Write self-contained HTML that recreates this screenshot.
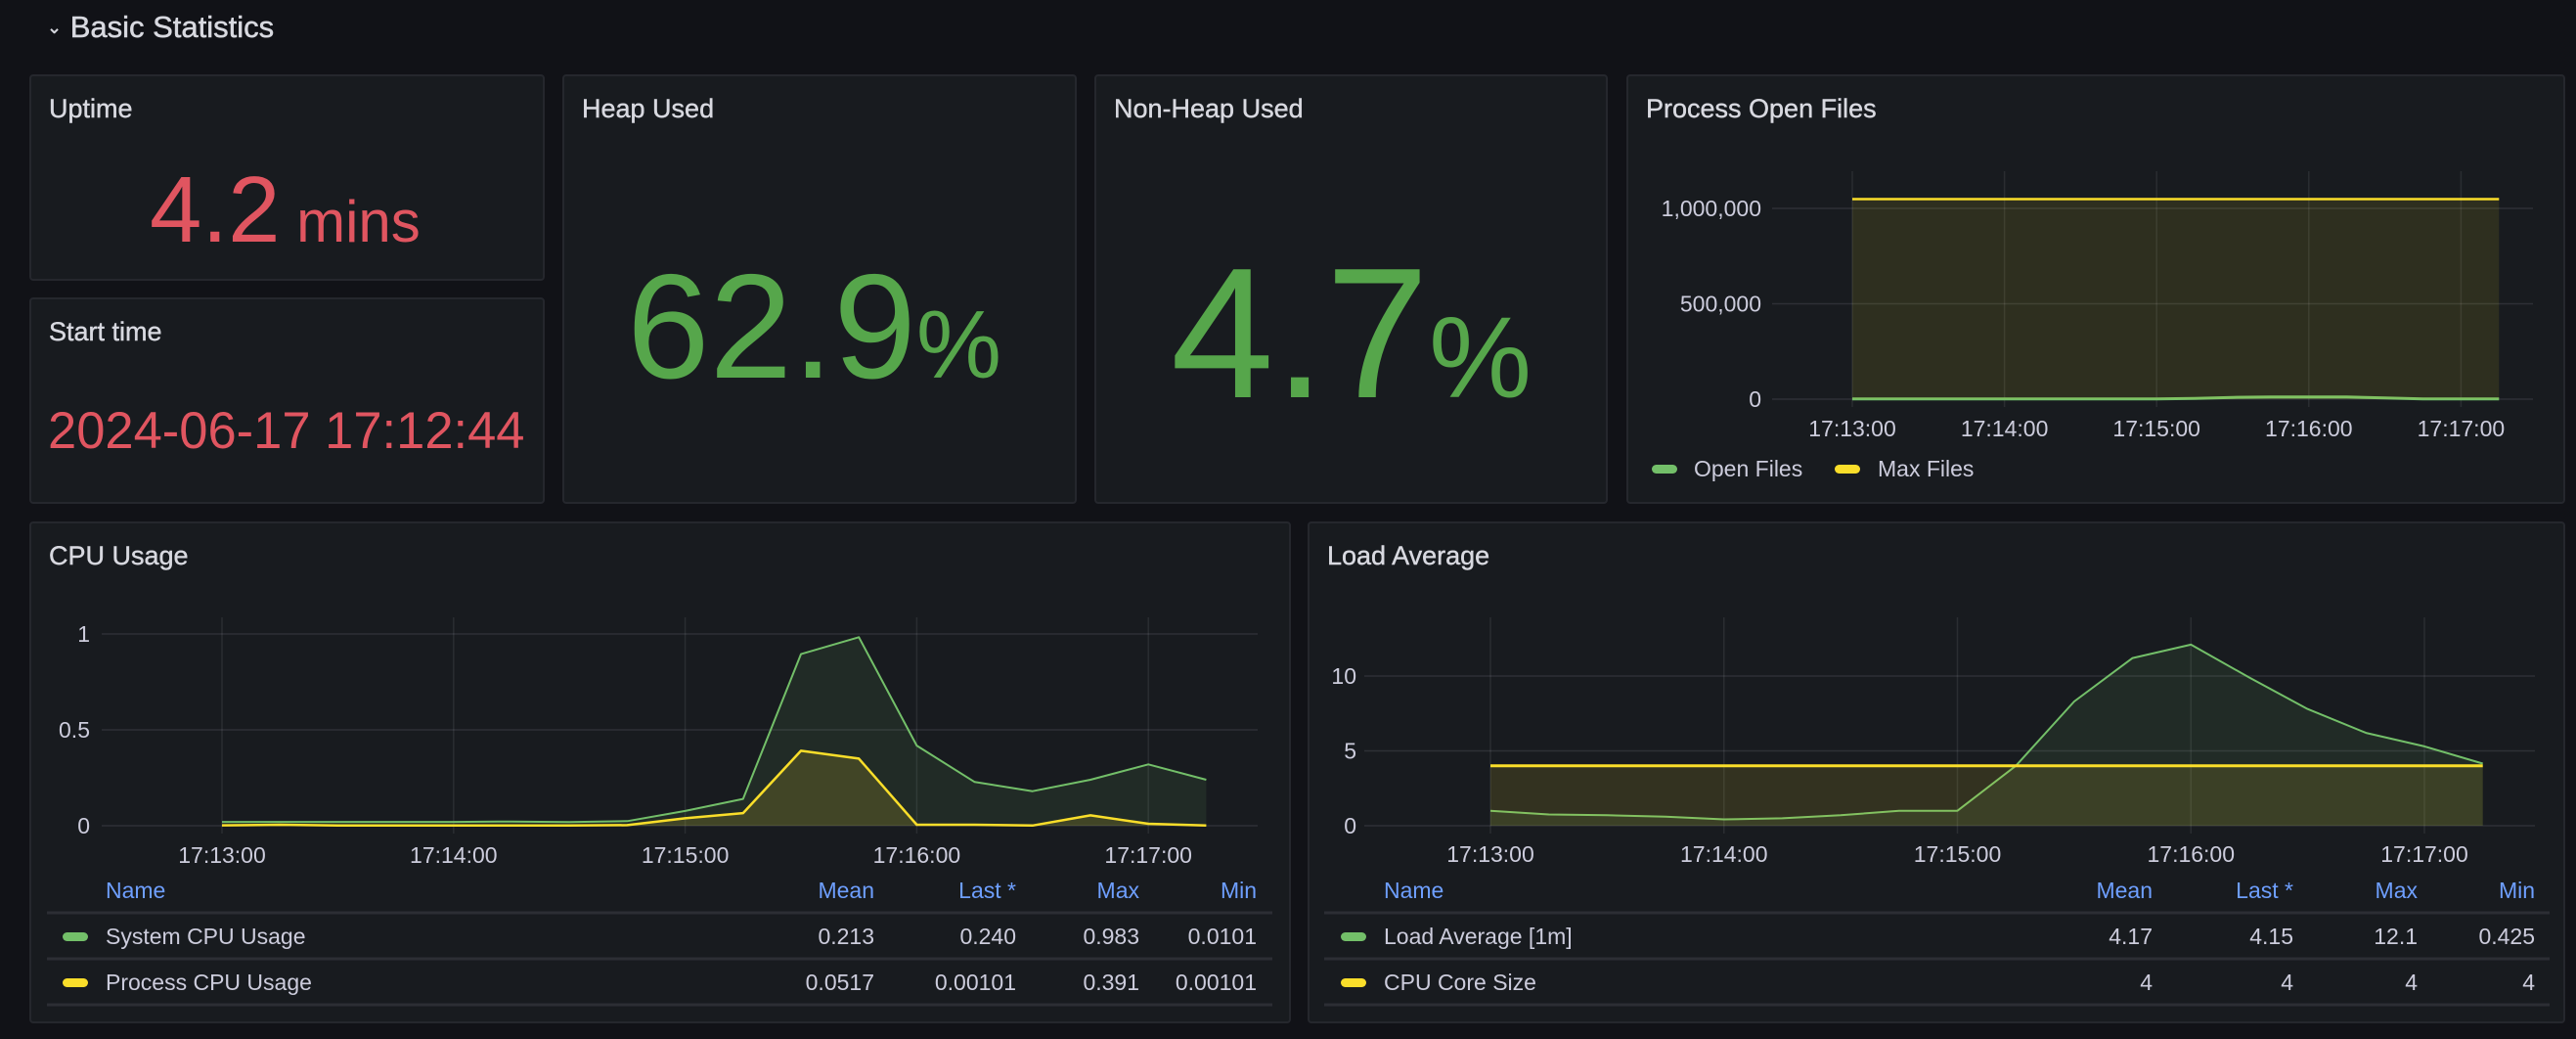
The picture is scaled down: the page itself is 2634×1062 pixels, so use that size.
<!DOCTYPE html>
<html><head><meta charset="utf-8"><style>
body{margin:0;width:2634px;height:1062px;background:#111217;font-family:"Liberation Sans",sans-serif;color:#ccccdc;overflow:hidden;position:relative}
.panel{position:absolute;background:#181b1f;border:2px solid #25272d;border-radius:4px;box-sizing:border-box}
.ptitle{position:absolute;left:18px;top:18px;font-size:27px;color:#d8d9e0;-webkit-text-stroke:0.4px #d8d9e0}
.abs{position:absolute;white-space:nowrap}
svg{position:absolute;left:0;top:0}
</style></head><body>
<div class="abs" style="left:48px;top:10px;font-size:31px;color:#d8d9e0;-webkit-text-stroke:0.5px #d8d9e0"><span style="font-size:18px;position:relative;top:-4px">&#8964;</span> Basic Statistics</div>

<div class="panel" style="left:30px;top:76px;width:527px;height:211px"><div class="ptitle">Uptime</div></div>
<div class="abs" style="left:153px;top:160px;color:#e05560;font-size:96px">4.2<span style="font-size:60px"> mins</span></div>

<div class="panel" style="left:30px;top:304px;width:527px;height:211px"><div class="ptitle">Start time</div></div>
<div class="abs" style="left:49px;top:410px;color:#e05560;font-size:52.5px">2024-06-17 17:12:44</div>

<div class="panel" style="left:575px;top:76px;width:526px;height:439px"><div class="ptitle">Heap Used</div></div>
<div class="abs" style="left:641px;top:247px;color:#56a64b;font-size:152px">62.9<span style="font-size:98px">%</span></div>

<div class="panel" style="left:1119px;top:76px;width:525px;height:439px"><div class="ptitle">Non-Heap Used</div></div>
<div class="abs" style="left:1197px;top:232px;color:#56a64b;font-size:190px">4.7<span style="font-size:118px">%</span></div>

<div class="panel" style="left:1663px;top:76px;width:960px;height:439px"><div class="ptitle">Process Open Files</div></div>
<div class="panel" style="left:30px;top:533px;width:1290px;height:513px"><div class="ptitle">CPU Usage</div></div>
<div class="panel" style="left:1337px;top:533px;width:1286px;height:513px"><div class="ptitle">Load Average</div></div>

<svg id="chart" width="2634" height="1062"></svg>
<script>
// time in seconds since 17:13:00
const cpuTimes=[0,15,30,45,60,75,90,105,120,135,150,165,180,195,210,225,240,255];
const cpuSystem=[0.02,0.02,0.02,0.02,0.02,0.022,0.019,0.024,0.077,0.14,0.895,0.983,0.418,0.228,0.18,0.24,0.32,0.24];
const cpuProcess=[0.002,0.005,0.001,0.001,0.001,0.001,0.001,0.003,0.039,0.066,0.391,0.35,0.005,0.005,0.001,0.054,0.01,0.001];
const cpuYTicks=[0,0.5,1];
const cpuYLabels=["0","0.5","1"];
const loadTimes=[0,15,30,45,60,75,90,105,120,135,150,165,180,195,210,225,240,255];
const loadAvg=[1.0,0.75,0.7,0.6,0.425,0.5,0.7,1.0,1.0,4.0,8.3,11.2,12.1,9.9,7.8,6.2,5.3,4.15];
const cpuCores=[4,4,4,4,4,4,4,4,4,4,4,4,4,4,4,4,4,4];
const loadYTicks=[0,5,10];
const loadYLabels=["0","5","10"];
const filesTimes=[0,15,30,45,60,75,90,105,120,135,150,165,180,195,210,225,240,255];
const openFiles=[1200,1200,1200,1200,1200,1200,1200,1200,1200,4000,9000,12000,12000,12000,6000,1200,1200,1200];
const maxFiles=[1048576,1048576,1048576,1048576,1048576,1048576,1048576,1048576,1048576,1048576,1048576,1048576,1048576,1048576,1048576,1048576,1048576,1048576];
const filesYTicks=[0,500000,1000000];
const filesYLabels=["0","500,000","1,000,000"];
const xTickSecs=[0,60,120,180,240];
const xTickLabels=["17:13:00","17:14:00","17:15:00","17:16:00","17:17:00"];

const svg=document.getElementById('chart');
const NS='http://www.w3.org/2000/svg';
function mk(tag,attrs){const e=document.createElementNS(NS,tag);for(const k in attrs)e.setAttribute(k,attrs[k]);svg.appendChild(e);return e;}

function chart(cfg){
  const xs=t=>cfg.x0+t*cfg.pxPerSec;
  const ys=v=>cfg.y0-v*cfg.pxPerUnit;
  cfg.yTicks.forEach((v,i)=>{
    const g=mk('line',{x1:cfg.gridLeft,x2:cfg.right,y1:ys(v),y2:ys(v),stroke:'rgba(204,204,220,0.12)','stroke-width':1.5});
    
    
    const t=mk('text',{x:cfg.labelRight,y:ys(v)+8,'text-anchor':'end','font-size':23,fill:'#ccccdc','font-family':'Liberation Sans'});
    t.textContent=cfg.yLabels[i];
    
    
  });
  xTickSecs.forEach((s,i)=>{
    const g=mk('line',{x1:xs(s),x2:xs(s),y1:cfg.top,y2:cfg.y0+8,stroke:'rgba(204,204,220,0.1)','stroke-width':1.5});
    
    
    const t=mk('text',{x:xs(s),y:cfg.xLabelY,'text-anchor':'middle','font-size':23,fill:'#ccccdc','font-family':'Liberation Sans'});
    t.textContent=xTickLabels[i];
    
    
  });
  cfg.series.forEach(s=>{
    const pts=s.times.map((t,i)=>xs(t).toFixed(1)+','+ys(s.values[i]).toFixed(1));
    const area=mk('polygon',{points:xs(s.times[0])+','+cfg.y0+' '+pts.join(' ')+' '+xs(s.times[s.times.length-1])+','+cfg.y0,fill:s.fill});
    
    
    const line=mk('polyline',{points:pts.join(' '),fill:'none',stroke:s.color,'stroke-width':s.w||2,'stroke-linejoin':'round'});
    
    
  });
}
chart({name:'cpu',x0:227,pxPerSec:236.8/60,y0:844,pxPerUnit:196,top:631,gridLeft:104,right:1286,labelRight:92,xLabelY:882,yTicks:cpuYTicks,yLabels:cpuYLabels,
  series:[{name:'system-cpu',times:cpuTimes,values:cpuSystem,color:'#73bf69',fill:'rgba(115,191,105,0.1)'},
          {name:'process-cpu',times:cpuTimes,values:cpuProcess,color:'#fade2a',fill:'rgba(250,222,42,0.15)',w:2.5}]});
chart({name:'load',x0:1524,pxPerSec:238.75/60,y0:844,pxPerUnit:15.3,top:631,gridLeft:1395,right:2592,labelRight:1387,xLabelY:881,yTicks:loadYTicks,yLabels:loadYLabels,
  series:[{name:'load-average',times:loadTimes,values:loadAvg,color:'#73bf69',fill:'rgba(115,191,105,0.1)'},
          {name:'cpu-core-size',times:loadTimes,values:cpuCores,color:'#fade2a',fill:'rgba(250,222,42,0.12)',w:3}]});
chart({name:'files',x0:1894,pxPerSec:155.6/60,y0:408,pxPerUnit:195/1000000,top:175,gridLeft:1812,right:2590,labelRight:1801,xLabelY:446,yTicks:filesYTicks,yLabels:filesYLabels,
  series:[{name:'open-files',times:filesTimes,values:openFiles,color:'#73bf69',fill:'rgba(115,191,105,0.1)',w:3},
          {name:'max-files',times:filesTimes,values:maxFiles,color:'#fade2a',fill:'rgba(250,222,42,0.1)',w:2.5}]});

function txt(x,y,s,opts){const t=mk('text',Object.assign({x:x,y:y,'font-size':23,fill:'#ccccdc','font-family':'Liberation Sans'},opts||{}));t.textContent=s;return t;}
function swatch(x,y,c){return mk('rect',{x:x,y:y,width:26,height:9,rx:4.5,fill:c});}
// files legend
let e=swatch(1689,475,'#73bf69');
e=txt(1732,487,'Open Files');
e=swatch(1876,475,'#fade2a');
e=txt(1920,487,'Max Files');

function table(prefix,x0,x1,nameX,sqX,cols,rows){
  const hy=918;
  e=txt(nameX,hy,'Name',{fill:'#6e9fff'});
  ['Mean','Last *','Max','Min'].forEach((h,i)=>{
    e=txt(cols[i],hy,h,{fill:'#6e9fff','text-anchor':'end'});
    
    
  });
  [933,980,1027].forEach(y=>{
    e=mk('line',{x1:x0,x2:x1,y1:y,y2:y,stroke:'#2c2e34','stroke-width':3});
    
    
  });
  rows.forEach((r,ri)=>{
    const y=965+ri*47;
    e=swatch(sqX,y-12,r.c);
    e=txt(nameX,y,r.n);
    r.v.forEach((v,i)=>{e=txt(cols[i],y,v,{'text-anchor':'end'});});
  });
}
table('cpu',48,1301,108,64,[894,1039,1165,1285],[
  {n:'System CPU Usage',c:'#73bf69',v:['0.213','0.240','0.983','0.0101']},
  {n:'Process CPU Usage',c:'#fade2a',v:['0.0517','0.00101','0.391','0.00101']}]);
table('load',1354,2607,1415,1371,[2201,2345,2472,2592],[
  {n:'Load Average [1m]',c:'#73bf69',v:['4.17','4.15','12.1','0.425']},
  {n:'CPU Core Size',c:'#fade2a',v:['4','4','4','4']}]);
</script>
</body></html>
